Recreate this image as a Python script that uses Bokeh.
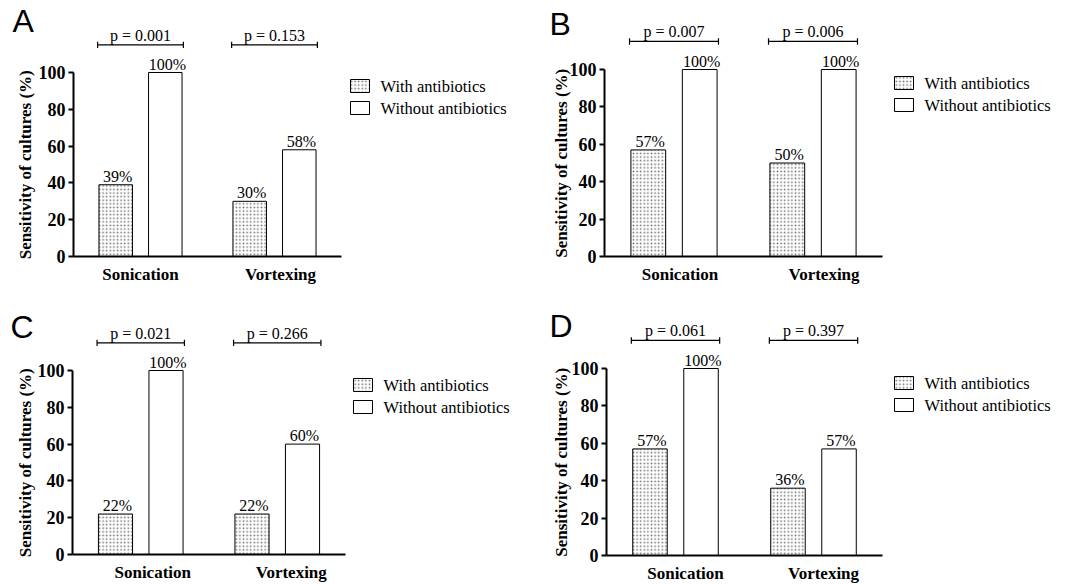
import numpy as np
from bokeh.plotting import figure
from bokeh.models import Range1d, FixedTicker, Label, ColumnDataSource
from bokeh.layouts import column, row
from bokeh.core.properties import value
from bokeh.embed import file_html
from bokeh.resources import INLINE

# ---------------- data ----------------
categories = ["Sonication", "Vortexing"]
series_names = ["With antibiotics", "Without antibiotics"]
y_ticks = [0, 20, 40, 60, 80, 100]
y_title = "Sensitivity of cultures  (%)"

with_abx_A = [39, 30]
without_abx_A = [100, 58]
pvals_A = ["p = 0.001", "p = 0.153"]

with_abx_B = [57, 50]
without_abx_B = [100, 100]
pvals_B = ["p = 0.007", "p = 0.006"]

with_abx_C = [22, 22]
without_abx_C = [100, 60]
pvals_C = ["p = 0.021", "p = 0.266"]

with_abx_D = [57, 36]
without_abx_D = [100, 57]
pvals_D = ["p = 0.061", "p = 0.397"]

bracket_level = 115

SERIF = "Liberation Serif"
SANS = "Liberation Sans"

# layout geometry per panel (pixels inside each figure)
GEOM = {
    "A": dict(W=534, H=292, fl=73, fr=341, y0=256, y100=72, lx=12, lb=38, tcx=25,
              gx=350, gy=79, cs=(0, 6)),
    "B": dict(W=534, H=292, fl=70, fr=348, y0=256, y100=69, lx=15, lb=41, tcx=27,
              gx=360, gy=76, cs=(6, 11)),
    "C": dict(W=534, H=292, fl=72, fr=345, y0=262, y100=78, lx=10, lb=52, tcx=25,
              gx=353, gy=86, cs=(12, 14)),
    "D": dict(W=534, H=292, fl=72, fr=348, y0=263, y100=76, lx=15, lb=51, tcx=27,
              gx=360, gy=84, cs=(10, 10)),
}

HATCH = dict(hatch_pattern="dot", hatch_scale=3.6, hatch_color="#444444",
             hatch_weight=1.0, hatch_alpha=0.75)


def make_panel(letter, with_vals, without_vals, pvals):
    g = GEOM[letter]
    ppx = (g["fr"] - g["fl"]) / 2.0
    ppy = (g["y0"] - g["y100"]) / 100.0

    def X(px):
        return 0.5 + (px - g["fl"]) / ppx

    def Y(py):
        return (g["y0"] - py) / ppy

    p = figure(width=g["W"], height=g["H"], output_backend="svg",
               toolbar_location=None,
               x_range=Range1d(X(0), X(g["W"])),
               y_range=Range1d(Y(g["H"]), Y(0)),
               min_border_left=0, min_border_right=0,
               min_border_top=0, min_border_bottom=0)
    p.outline_line_color = None
    p.xgrid.visible = False
    p.ygrid.visible = False
    p.background_fill_color = "white"
    p.border_fill_color = "white"

    centers = np.arange(len(categories)) + 1.0
    off = 0.185
    bw = 0.25
    src = ColumnDataSource(dict(
        xw=centers - off, xo=centers + off,
        w=with_vals, o=without_vals,
        wl=[f"{v}%" for v in with_vals], ol=[f"{v}%" for v in without_vals],
        c=centers, pv=pvals,
        bl=centers - 0.32, br=centers + 0.32,
        lev=[bracket_level] * len(categories),
    ))

    p.vbar(x="xw", top="w", width=bw, source=src, fill_color="white",
           line_color="black", line_width=1, **HATCH)
    p.vbar(x="xo", top="o", width=bw, source=src, fill_color="white",
           line_color="black", line_width=1)

    # value labels
    for xcol, ycol, lcol in (("xw", "w", "wl"), ("xo", "o", "ol")):
        p.text(x=xcol, y=ycol, text=lcol, source=src, y_offset=0, x_offset=2,
               text_align="center", text_baseline="bottom",
               text_font=value(SERIF), text_font_size="16px", text_color="black")

    # p-value brackets
    tick_h = 1.7
    p.segment(x0="bl", y0="lev", x1="br", y1="lev", source=src,
              line_color="black", line_width=1.2)
    src2 = ColumnDataSource(dict(
        xe=list(centers - 0.32) + list(centers + 0.32),
        ya=[bracket_level - tick_h] * 4, yb=[bracket_level + tick_h] * 4))
    p.segment(x0="xe", y0="ya", x1="xe", y1="yb", source=src2,
              line_color="black", line_width=1.2)
    p.text(x="c", y="lev", text="pv", source=src, y_offset=-1,
           text_align="center", text_baseline="bottom",
           text_font=value(SERIF), text_font_size="16px", text_color="black")

    # axes (fixed inside the frame)
    ya = p.yaxis[0]
    ya.fixed_location = 0.5
    ya.bounds = (0, 100)
    ya.ticker = FixedTicker(ticks=y_ticks)
    ya.minor_tick_line_color = None
    ya.major_tick_in = 0
    ya.major_tick_out = 5
    ya.major_tick_line_width = 2
    ya.axis_line_width = 2
    ya.axis_line_color = "black"
    ya.major_tick_line_color = "black"
    ya.major_label_standoff = 3
    ya.major_label_text_font = SERIF
    ya.major_label_text_font_style = "bold"
    ya.major_label_text_font_size = "18px"
    ya.major_label_text_color = "black"

    xa = p.xaxis[0]
    xa.fixed_location = 0
    xa.bounds = (0.5, 2.5)
    label_pos = [float(c + s / ppx) for c, s in zip(centers, g["cs"])]
    xa.ticker = FixedTicker(ticks=label_pos)
    xa.major_label_overrides = {lp: cat for lp, cat in zip(label_pos, categories)}
    xa.minor_tick_line_color = None
    xa.major_tick_line_color = None
    xa.major_tick_in = 0
    xa.major_tick_out = 0
    xa.axis_line_width = 2
    xa.axis_line_color = "black"
    xa.major_label_standoff = 8
    xa.major_label_text_font = SERIF
    xa.major_label_text_font_style = "bold"
    xa.major_label_text_font_size = "17px"
    xa.major_label_text_color = "black"

    # y axis title
    p.add_layout(Label(x=X(g["tcx"]), y=51, text=y_title, angle=np.pi / 2,
                       text_align="center", text_baseline="middle",
                       text_font=SERIF, text_font_style="bold",
                       text_font_size="17px", text_color="black"))
    # panel letter
    p.add_layout(Label(x=X(g["lx"]), y=Y(g["lb"]), text=letter,
                       text_align="left", text_baseline="bottom",
                       text_font=SANS, text_font_size="32px", text_color="black"))

    # legend (swatches + labels)
    gx, gy = g["gx"], g["gy"]
    pitch = 22
    leg = ColumnDataSource(dict(
        name=series_names,
        left=[X(gx)] * 2, right=[X(gx + 19)] * 2,
        top=[Y(gy + i * pitch) for i in range(2)],
        bottom=[Y(gy + 13 + i * pitch) for i in range(2)],
        tx=[X(gx + 30)] * 2,
        ty=[Y(gy + 6.5 + i * pitch) for i in range(2)],
    ))
    leg_with = ColumnDataSource({k: v[:1] for k, v in leg.data.items()})
    leg_without = ColumnDataSource({k: v[1:] for k, v in leg.data.items()})
    p.quad(left="left", right="right", top="top", bottom="bottom", source=leg_with,
           fill_color="white", line_color="black", line_width=1, **HATCH)
    p.quad(left="left", right="right", top="top", bottom="bottom", source=leg_without,
           fill_color="white", line_color="black", line_width=1)
    p.text(x="tx", y="ty", text="name", source=leg, text_align="left",
           text_baseline="middle", text_font=value(SERIF), text_font_size="16.5px",
           text_color="black")
    return p


pA = make_panel("A", with_abx_A, without_abx_A, pvals_A)
pB = make_panel("B", with_abx_B, without_abx_B, pvals_B)
pC = make_panel("C", with_abx_C, without_abx_C, pvals_C)
pD = make_panel("D", with_abx_D, without_abx_D, pvals_D)

layout = column(row(pA, pB), row(pC, pD))
open("out.html", "w").write(file_html(layout, INLINE))
